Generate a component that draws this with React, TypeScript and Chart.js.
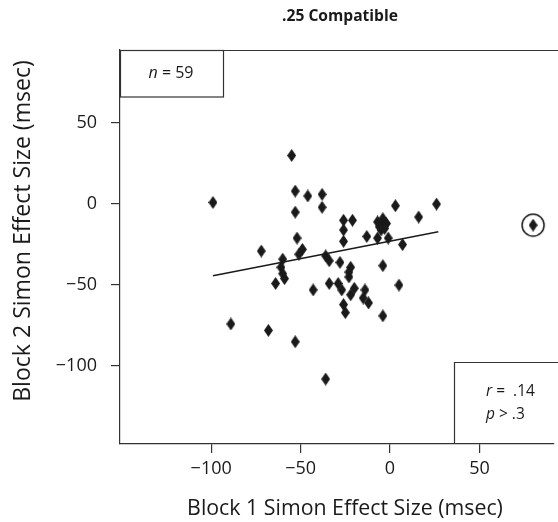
import React, { useEffect, useRef } from "react";
import { Chart, registerables } from "chart.js";
Chart.register(...registerables);

// ---- data ----
const pointsX = [-99, -55, -53, -53, -52, -46, -38, -38, -26, -21, -26, -26, -13, 3, -4, -5, -2, -5, -7, -1, 7, 16, 26, -4, -22, -23, 5, -72, -49, -51, -60, -61, -60, -59, -36, -34, -28, -64, -43, -89, -68, -53, -36, -34, -29, -27, -22, -20, -14, -15, -12, -26, -25, -4, -3, -7, -6, -23];
const pointsY = [1, 30, 8, -5, -21, 5, 6, -2, -10, -10, -16, -23, -20, -1, -9, -13, -12, -16, -21, -21, -25, -8, 0, -38, -39, -45, -50, -29, -28, -31, -34, -39, -43, -46, -32, -35, -36, -49, -53, -74, -78, -85, -108, -49, -49, -53, -56, -52, -53, -58, -61, -62, -67, -69, -15, -11, -14, -42];
const outlierX = [80];
const outlierY = [-13];
const fitX = [-99, 27];
const fitY = [-44.3, -17.1];
const xTicks = [-100, -50, 0, 50];
const yTicks = [-100, -50, 0, 50];
const xRange = [-151, 91.7];
const yRange = [-148.1, 95.1];
const titleText = ".25 Compatible";
const xTitle = "Block 1 Simon Effect Size (msec)";
const yTitle = "Block 2 Simon Effect Size (msec)";
const nValue = "59";
const rValue = ".14";
const pValue = ".3";

const FONT = '"Open Sans", "Noto Sans", sans-serif';
const INK = "#1a1a1a";
const FRAME = "#333";

const fmt = (v: number) => (v < 0 ? "\u2212" + Math.abs(v) : String(v));

function makeDiamond(): HTMLCanvasElement {
  const c = document.createElement("canvas");
  c.width = 9;
  c.height = 13;
  const g = c.getContext("2d")!;
  g.fillStyle = INK;
  g.beginPath();
  g.moveTo(4.5, 0);
  g.lineTo(9, 6.5);
  g.lineTo(4.5, 13);
  g.lineTo(0, 6.5);
  g.closePath();
  g.fill();
  return c;
}

function makeRing(): HTMLCanvasElement {
  const c = document.createElement("canvas");
  c.width = 26;
  c.height = 26;
  const g = c.getContext("2d")!;
  g.strokeStyle = INK;
  g.lineWidth = 1.5;
  g.beginPath();
  g.arc(13, 13, 11, 0, Math.PI * 2);
  g.stroke();
  return c;
}

function fitFont(ctx: CanvasRenderingContext2D, text: string, style: string, width: number) {
  ctx.font = `${style} 100px ${FONT}`;
  const w = ctx.measureText(text).width;
  return `${style} ${(100 * width) / w}px ${FONT}`;
}

const textPlugin = {
  id: "texts",
  afterDraw(chart: any) {
    const ctx = chart.ctx as CanvasRenderingContext2D;
    const a = chart.chartArea;
    ctx.save();
    // top frame line
    ctx.strokeStyle = FRAME;
    ctx.lineWidth = 1.2;
    ctx.beginPath();
    ctx.moveTo(a.left, a.top + 0.5);
    ctx.lineTo(a.right + 5, a.top + 0.5);
    ctx.stroke();
    // n box
    ctx.strokeRect(a.left + 0.5, a.top + 0.5, 103, 46.5);
    // r/p box
    ctx.beginPath();
    ctx.moveTo(a.right + 5, 362.5);
    ctx.lineTo(454.5, 362.5);
    ctx.lineTo(454.5, a.bottom);
    ctx.stroke();

    ctx.fillStyle = INK;
    ctx.textBaseline = "middle";
    // title
    ctx.font = fitFont(ctx, titleText, "bold", 116);
    ctx.textAlign = "center";
    ctx.fillText(titleText, 340, 17);

    // x title
    ctx.font = fitFont(ctx, xTitle, "normal", 316);
    ctx.textAlign = "center";
    ctx.fillText(xTitle, 345, 509);

    // y title
    ctx.save();
    ctx.font = fitFont(ctx, yTitle, "normal", 342);
    ctx.translate(23, 231);
    ctx.rotate(-Math.PI / 2);
    ctx.fillText(yTitle, 0, 0);
    ctx.restore();

    const drawParts = (parts: [string, boolean][], x: number, y: number, size: number, align: "left" | "center") => {
      const fonts = parts.map(([, it]) => `${it ? "italic " : ""}${size}px ${FONT}`);
      let total = 0;
      const widths = parts.map(([t], i) => {
        ctx.font = fonts[i];
        const w = ctx.measureText(t).width;
        total += w;
        return w;
      });
      let cx = align === "center" ? x - total / 2 : x;
      ctx.textAlign = "left";
      parts.forEach(([t], i) => {
        ctx.font = fonts[i];
        ctx.fillText(t, cx, y);
        cx += widths[i];
      });
    };
    drawParts([["n", true], [" = " + nValue, false]], 171, 73, 16, "center");
    drawParts([["r", true], [" =  " + rValue, false]], 486, 392, 15.5, "left");
    drawParts([["p", true], [" > " + pValue, false]], 486, 415, 15.5, "left");
    ctx.restore();
  },
};

export default function App() {
  const ref = useRef<HTMLCanvasElement>(null);
  useEffect(() => {
    document.body.style.margin = "0";
    const diamond = makeDiamond();
    const ring = makeRing();
    const chart = new Chart(ref.current!, {
      type: "scatter",
      data: {
        datasets: [
          {
            type: "line",
            data: fitX.map((x, i) => ({ x, y: fitY[i] })),
            borderColor: INK,
            borderWidth: 1.5,
            pointRadius: 0,
            fill: false,
          } as any,
          {
            data: pointsX.map((x, i) => ({ x, y: pointsY[i] })),
            pointStyle: diamond as any,
            pointRadius: 1,
            borderWidth: 0,
          },
          {
            data: outlierX.map((x, i) => ({ x, y: outlierY[i] })),
            pointStyle: diamond as any,
            pointRadius: 1,
            borderWidth: 0,
          },
          {
            data: outlierX.map((x, i) => ({ x, y: outlierY[i] })),
            pointStyle: ring as any,
            pointRadius: 1,
            borderWidth: 0,
          },
        ],
      },
      options: {
        animation: false,
        responsive: false,
        devicePixelRatio: 1,
        layout: { padding: { top: 50, left: 0, right: 0, bottom: 0 } },
        plugins: { legend: { display: false }, tooltip: { enabled: false } },
        scales: {
          x: {
            type: "linear",
            min: xRange[0],
            max: xRange[1],
            afterFit: (s: any) => {
              s.height = 78;
              s.paddingLeft = 0;
              s.paddingRight = 0;
            },
            afterBuildTicks: (s: any) => {
              s.ticks = xTicks.map((v) => ({ value: v }));
            },
            ticks: {
              color: INK,
              font: { family: FONT, size: 18 },
              padding: 5,
              maxRotation: 0,
              autoSkip: false,
              callback: (v: any) => fmt(Number(v)),
            },
            grid: { drawOnChartArea: false, drawTicks: true, tickLength: 9, color: FRAME, lineWidth: 1.2 },
            border: { display: true, color: FRAME, width: 1.2 },
          },
          y: {
            type: "linear",
            min: yRange[0],
            max: yRange[1],
            afterFit: (s: any) => {
              s.width = 120;
              s.paddingTop = 0;
              s.paddingBottom = 0;
            },
            afterBuildTicks: (s: any) => {
              s.ticks = yTicks.map((v) => ({ value: v }));
            },
            ticks: {
              color: INK,
              font: { family: FONT, size: 18 },
              padding: 14,
              autoSkip: false,
              callback: (v: any) => fmt(Number(v)),
            },
            grid: { drawOnChartArea: false, drawTicks: true, tickLength: 9, color: FRAME, lineWidth: 1.2 },
            border: { display: true, color: FRAME, width: 1.2 },
          },
        },
      },
      plugins: [textPlugin],
    });
    return () => chart.destroy();
  }, []);
  return <canvas ref={ref} width={558} height={522} style={{ display: "block" }} />;
}
